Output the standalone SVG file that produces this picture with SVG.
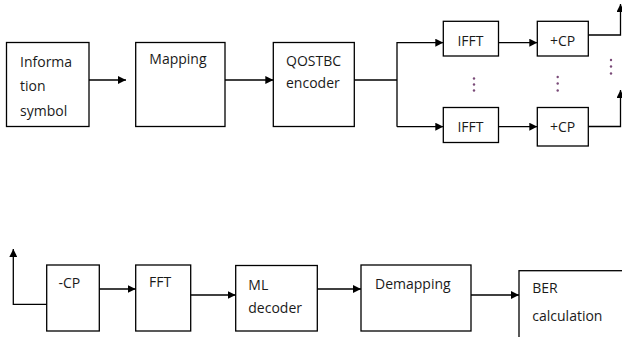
<svg xmlns="http://www.w3.org/2000/svg" width="622" height="337" viewBox="0 0 622 337">
  <style>
    .box { fill: #ffffff; stroke: #000000; stroke-width: 1.3; }
    .lbl { font-family: "Open Sans", "Liberation Sans", sans-serif; font-size: 14px; fill: #1a1a1a; }
    .wire { fill: none; stroke: #000000; stroke-width: 1.3; }
    .dot { fill: #7a4a78; }
  </style>
  <defs>
    <marker id="arrow" viewBox="0 0 10 10" refX="10" refY="5" markerWidth="8" markerHeight="8" markerUnits="userSpaceOnUse" orient="auto">
      <path d="M0,0 L10,5 L0,10 z" fill="#000000"/>
    </marker>
  </defs>
  <rect width="622" height="337" fill="#ffffff"/>

  <!-- transmitter chain -->
  <g id="info">
    <rect class="box" x="6.5" y="42.5" width="82.5" height="84"/>
    <text class="lbl" x="20" y="66.5">Informa</text>
    <text class="lbl" x="20" y="91">tion</text>
    <text class="lbl" x="20" y="115.5">symbol</text>
  </g>
  <g id="mapping">
    <rect class="box" x="135.7" y="42.5" width="89.3" height="84"/>
    <text class="lbl" x="149.3" y="64">Mapping</text>
  </g>
  <g id="qostbc">
    <rect class="box" x="273.3" y="42.5" width="81" height="84"/>
    <text class="lbl" x="286" y="65.5">QOSTBC</text>
    <text class="lbl" x="286" y="88.3">encoder</text>
  </g>
  <g id="ifft1">
    <rect class="box" x="443.3" y="21.3" width="55.2" height="34.7"/>
    <text class="lbl" x="470.5" y="45.5" text-anchor="middle">IFFT</text>
  </g>
  <g id="cp1">
    <rect class="box" x="537.3" y="21.3" width="51" height="34.7"/>
    <text class="lbl" x="562.5" y="45.5" text-anchor="middle">+CP</text>
  </g>
  <g id="ifft2">
    <rect class="box" x="443.3" y="107.5" width="55.2" height="35"/>
    <text class="lbl" x="470.5" y="131.5" text-anchor="middle">IFFT</text>
  </g>
  <g id="cp2">
    <rect class="box" x="537.3" y="107.5" width="51" height="38.5"/>
    <text class="lbl" x="562.5" y="131.5" text-anchor="middle">+CP</text>
  </g>

  <!-- receiver chain -->
  <g id="rmcp">
    <rect class="box" x="46.7" y="265" width="52.6" height="66"/>
    <text class="lbl" x="58.5" y="288.3">-CP</text>
  </g>
  <g id="fft">
    <rect class="box" x="135.7" y="265" width="55" height="66"/>
    <text class="lbl" x="149" y="287.3">FFT</text>
  </g>
  <g id="ml">
    <rect class="box" x="235.7" y="265.5" width="81.6" height="65.5"/>
    <text class="lbl" x="248.3" y="290">ML</text>
    <text class="lbl" x="248.3" y="313.3">decoder</text>
  </g>
  <g id="demapping">
    <rect class="box" x="361" y="265" width="110" height="66"/>
    <text class="lbl" x="375" y="289">Demapping</text>
  </g>
  <g id="ber">
    <rect class="box" x="519" y="270.7" width="115" height="75"/>
    <text class="lbl" x="532.3" y="293.3">BER</text>
    <text class="lbl" x="532.3" y="321">calculation</text>
  </g>

  <!-- branch ellipses -->
  <g id="ellipses">
    <circle class="dot" cx="474" cy="78.5" r="1.2"/>
    <circle class="dot" cx="474" cy="84.5" r="1.2"/>
    <circle class="dot" cx="474" cy="90.5" r="1.2"/>
    <circle class="dot" cx="557.7" cy="77" r="1.2"/>
    <circle class="dot" cx="557.7" cy="83.5" r="1.2"/>
    <circle class="dot" cx="557.7" cy="90.5" r="1.2"/>
    <circle class="dot" cx="611" cy="60" r="1.2"/>
    <circle class="dot" cx="611" cy="66.5" r="1.2"/>
    <circle class="dot" cx="611" cy="73.5" r="1.2"/>
  </g>

  <g id="connectors">
    <path class="wire" d="M89,80 H126" marker-end="url(#arrow)"/>
    <path class="wire" d="M225,80 H273.3" marker-end="url(#arrow)"/>
    <path class="wire" d="M354.3,80 H397"/>
    <path class="wire" d="M397,126.7 V42.7 H443.3" marker-end="url(#arrow)"/>
    <path class="wire" d="M397,126.7 H443.3" marker-end="url(#arrow)"/>
    <path class="wire" d="M498.5,42.7 H537.3" marker-end="url(#arrow)"/>
    <path class="wire" d="M498.5,126.7 H537.3" marker-end="url(#arrow)"/>
    <path class="wire" d="M588.3,35 H620.5 V4" marker-end="url(#arrow)"/>
    <path class="wire" d="M588.3,126.5 H620.5 V90" marker-end="url(#arrow)"/>
    <path class="wire" d="M46.7,304.3 H13.3 V249" marker-end="url(#arrow)"/>
    <path class="wire" d="M99.3,289 H135.7" marker-end="url(#arrow)"/>
    <path class="wire" d="M190.7,295 H235.7" marker-end="url(#arrow)"/>
    <path class="wire" d="M317.3,289 H361" marker-end="url(#arrow)"/>
    <path class="wire" d="M471,295 H519" marker-end="url(#arrow)"/>
  </g>
</svg>
